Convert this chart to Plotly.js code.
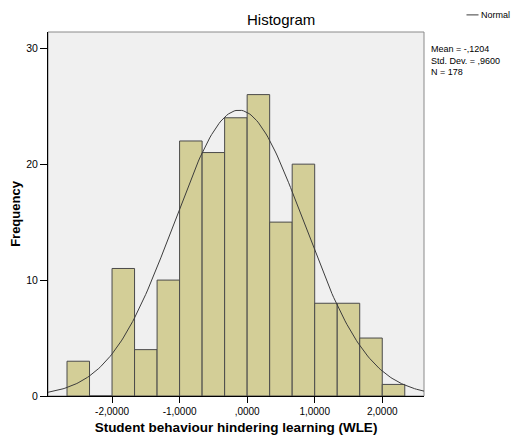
<!DOCTYPE html>
<html>
<head>
<meta charset="utf-8">
<script src="https://cdn.plot.ly/plotly-3.0.1.min.js"></script>
<style>
  html, body { margin: 0; padding: 0; background: #fff; }
  #chart { width: 515px; height: 437px; }
</style>
</head>
<body>
<div id="chart"></div>
<script>
// Histogram of WLE scores: bins of width 1/3 starting at -8/3
const binStart = -8 / 3;
const binWidth = 1 / 3;
const counts = [3, 0, 11, 4, 10, 22, 21, 24, 26, 15, 20, 8, 8, 5, 1];

// Summary statistics printed beside the chart
const mean = -0.1204;
const stdDev = 0.9600;
const n = 178;

// Axis ticks
const xTickVals = [-2, -1, 0, 1, 2];
const xTickText = ['-2,0000', '-1,0000', ',0000', '1,0000', '2,0000'];
const yTickVals = [0, 10, 20, 30];

const xRange = [-2.948, 2.618];
const yRange = [0, 31.4];

const binCenters = counts.map((_, i) => binStart + binWidth * (i + 0.5));

// Fitted normal curve, scaled to counts per bin
const curveX = [];
const curveY = [];
const steps = 200;
for (let i = 0; i <= steps; i++) {
  const x = xRange[0] + (xRange[1] - xRange[0]) * i / steps;
  const z = (x - mean) / stdDev;
  curveX.push(x);
  curveY.push(n * binWidth * Math.exp(-0.5 * z * z) / (stdDev * Math.sqrt(2 * Math.PI)));
}

const bars = {
  type: 'bar',
  x: binCenters,
  y: counts,
  width: binWidth,
  marker: { color: '#d3ce97', line: { color: '#4a4a4a', width: 1 } },
  hoverinfo: 'x+y',
  showlegend: false
};

const normal = {
  type: 'scatter',
  mode: 'lines',
  x: curveX,
  y: curveY,
  line: { color: '#3c3c3c', width: 1 },
  name: 'Normal',
  hoverinfo: 'skip',
  showlegend: false
};

const fontFamily = '"Liberation Sans", Arial, sans-serif';

const layout = {
  width: 515,
  height: 437,
  margin: { l: 48, r: 91, t: 32, b: 41 },
  paper_bgcolor: '#ffffff',
  plot_bgcolor: '#f0f0f0',
  font: { family: fontFamily, size: 10, color: '#000' },
  bargap: 0,
  xaxis: {
    range: xRange,
    tickvals: xTickVals,
    ticktext: xTickText,
    ticks: 'outside',
    ticklen: 6,
    tickcolor: '#000',
    showline: true,
    linecolor: '#000',
    linewidth: 1,
    showgrid: false,
    zeroline: false,
    tickfont: { size: 10 },
    title: {
      text: '<b>Student behaviour hindering learning (WLE)</b>',
      font: { size: 13.5 },
      standoff: 6
    }
  },
  yaxis: {
    range: yRange,
    tickvals: yTickVals,
    ticks: 'outside',
    ticklen: 7,
    tickcolor: '#000',
    showline: true,
    linecolor: '#000',
    linewidth: 1,
    showgrid: false,
    zeroline: false,
    tickfont: { size: 10.5 },
    title: {
      text: '<b>Frequency</b>',
      font: { size: 13 },
      standoff: 2
    }
  },
  shapes: [
    // Frame around the plotting area
    {
      type: 'rect', xref: 'paper', yref: 'paper',
      x0: 0, x1: 1, y0: 0, y1: 1,
      line: { color: '#8a8a8a', width: 1 },
      layer: 'below'
    },
    // Legend sample line for the normal curve
    {
      type: 'line', xref: 'paper', yref: 'paper',
      x0: 1.113, x1: 1.145, y0: 1.047, y1: 1.047,
      line: { color: '#3c3c3c', width: 1 }
    }
  ],
  annotations: [
    {
      text: 'Histogram',
      xref: 'paper', yref: 'paper',
      x: 0.62, y: 1.0, yshift: 2,
      xanchor: 'center', yanchor: 'bottom',
      showarrow: false,
      font: { size: 15, color: '#000' }
    },
    {
      text: 'Normal',
      xref: 'paper', yref: 'paper',
      x: 1.147, y: 1.047,
      xanchor: 'left', yanchor: 'middle',
      showarrow: false,
      font: { size: 9, color: '#000' }
    },
    {
      text: 'Mean = -,' + Math.round(Math.abs(mean) * 10000) +
            '<br>Std. Dev. = ,' + Math.round(stdDev * 10000) +
            '<br>N = ' + n,
      xref: 'paper', yref: 'paper',
      x: 1.013, y: 0.972,
      xanchor: 'left', yanchor: 'top',
      align: 'left',
      showarrow: false,
      font: { size: 9, color: '#000' }
    }
  ]
};

Plotly.newPlot('chart', [bars, normal], layout, { displayModeBar: false, staticPlot: true });
</script>
</body>
</html>
